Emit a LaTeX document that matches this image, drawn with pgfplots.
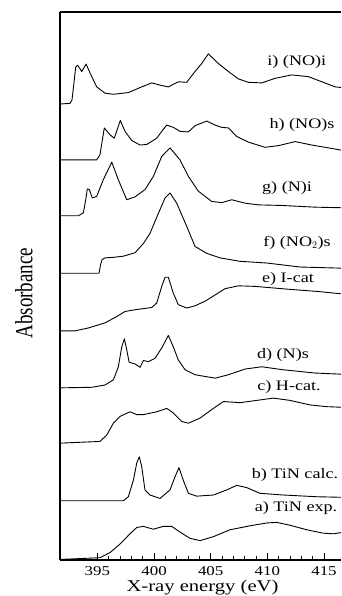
\documentclass[border=0pt]{standalone}
\usepackage{pgfplots}
\usepackage{pgfplotstable}
\usepackage{fontspec}
\usepackage{graphicx}
\pgfplotsset{compat=1.18}
\setmainfont{Liberation Serif}[FakeStretch=1.25]
\newfontfamily\plainserif{Liberation Serif}

% local curve heights (baseline = 0); offsets added when plotting
\pgfplotstableread{
x y
391.70 0
392.58 0.01
392.76 0.07
393.09 0.65
393.26 0.68
393.62 0.57
394.00 0.70
394.50 0.48
394.94 0.30
395.67 0.19
396.41 0.17
397.73 0.20
398.91 0.30
399.80 0.37
400.53 0.33
401.26 0.30
402.14 0.39
402.88 0.38
403.62 0.57
404.21 0.71
404.79 0.88
405.68 0.71
406.56 0.57
407.44 0.44
408.33 0.38
409.51 0.37
410.68 0.45
412.15 0.51
413.62 0.48
414.80 0.39
415.98 0.30
416.50 0.29
}\tabI

\pgfplotstableread{
x y
391.70 0
394.94 0
395.23 0.09
395.61 0.56
395.82 0.51
396.11 0.44
396.49 0.38
397.02 0.69
397.44 0.50
398.03 0.34
398.76 0.26
399.36 0.27
400.24 0.38
400.68 0.50
401.12 0.61
401.70 0.57
402.29 0.50
403.03 0.49
403.62 0.60
404.65 0.68
405.39 0.61
405.98 0.57
406.56 0.56
407.30 0.41
408.33 0.31
409.80 0.22
411.00 0.25
412.45 0.32
413.92 0.26
416.27 0.18
416.50 0.17
}\tabH

\pgfplotstableread{
x y
391.70 0
393.32 0
393.76 0.05
393.97 0.28
394.11 0.47
394.29 0.46
394.55 0.31
394.94 0.34
395.52 0.63
396.27 0.94
396.85 0.63
397.59 0.28
398.32 0.33
399.21 0.46
399.94 0.69
400.68 1.04
401.41 1.19
402.29 0.98
403.03 0.69
403.91 0.43
405.09 0.25
405.98 0.23
406.86 0.28
408.03 0.22
409.21 0.19
411.27 0.18
414.21 0.15
416.50 0.14
}\tabG

\pgfplotstableread{
x y
391.70 0
395.14 0
395.28 0.15
395.41 0.24
395.67 0.27
396.41 0.28
397.29 0.30
398.32 0.36
399.05 0.52
399.64 0.70
400.38 1.05
400.97 1.32
401.41 1.41
402.00 1.23
402.89 0.82
403.62 0.47
404.65 0.35
405.83 0.27
407.59 0.21
409.95 0.18
412.89 0.11
416.50 0.09
}\tabF

\pgfplotstableread{
x y
391.70 0
393.02 0
394.19 0.05
395.67 0.14
396.70 0.25
397.44 0.34
398.32 0.37
399.80 0.41
400.24 0.49
400.68 0.78
400.97 0.94
401.26 0.94
401.70 0.66
402.14 0.46
402.88 0.40
403.62 0.44
404.50 0.52
405.39 0.63
406.27 0.74
407.44 0.79
408.92 0.78
411.86 0.73
414.51 0.69
416.50 0.65
}\tabE

\pgfplotstableread{
x y
391.70 0
394.50 0.01
395.67 0.05
396.41 0.14
396.85 0.37
397.15 0.72
397.38 0.86
397.59 0.67
397.80 0.45
398.32 0.42
398.77 0.36
399.06 0.48
399.50 0.46
400.09 0.52
400.68 0.70
401.26 0.92
401.70 0.72
402.14 0.49
402.73 0.32
403.62 0.23
405.39 0.17
406.56 0.23
408.03 0.33
409.51 0.37
411.27 0.32
414.21 0.26
416.50 0.24
}\tabD

\pgfplotstableread{
x y
391.70 0
395.23 0.03
395.82 0.14
396.41 0.35
397.00 0.47
397.88 0.55
398.47 0.50
399.05 0.50
400.24 0.55
401.12 0.61
401.70 0.53
402.44 0.38
403.03 0.35
404.06 0.44
405.24 0.61
406.12 0.73
407.59 0.71
409.06 0.75
410.53 0.79
412.00 0.75
413.77 0.67
415.24 0.64
416.50 0.63
}\tabC

\pgfplotstableread{
x y
391.70 0
397.29 0
397.73 0.07
398.18 0.36
398.47 0.66
398.70 0.77
398.91 0.60
399.20 0.19
399.64 0.10
400.53 0.04
401.41 0.19
401.85 0.42
402.20 0.58
402.58 0.36
403.03 0.13
403.76 0.08
405.24 0.10
406.42 0.19
407.30 0.27
408.18 0.23
409.35 0.13
411.41 0.10
414.35 0.07
416.50 0.06
}\tabB

\pgfplotstableread{
x y
391.70 0.01
395.23 0.04
396.11 0.13
397.00 0.28
397.88 0.46
398.47 0.57
399.06 0.59
399.94 0.54
400.82 0.59
401.56 0.59
402.29 0.49
403.17 0.38
404.06 0.34
405.24 0.41
406.70 0.53
408.47 0.60
409.95 0.65
410.83 0.66
412.00 0.61
413.48 0.53
414.94 0.47
415.83 0.46
416.50 0.48
}\tabA

\begin{document}
\begin{tikzpicture}
\useasboundingbox (-60pt,-36pt) rectangle (281pt,560pt);
\begin{axis}[
  at={(0pt,0pt)}, anchor=south west,
  width=281pt, height=548pt, scale only axis,
  xmin=391.7, xmax=416.5, ymin=0, ymax=9.614,
  axis x line*=box, axis y line*=left,
  axis line style={-, line width=1.4pt, black},
  xtick={395,400,405,410,415},
  minor x tick num=4,
  xtick pos=bottom,
  ytick=\empty,
  tick align=inside,
  major tick length=7pt, minor tick length=4pt,
  every tick/.style={black, line width=1pt},
  /pgf/number format/assume math mode=true,
  /pgf/number format/1000 sep={},
  xticklabel style={font=\fontsize{13.5}{15}\selectfont, anchor=center, yshift=-11pt},
  xlabel={X-ray energy (eV)},
  xlabel style={font=\fontsize{16.5}{18}\selectfont, at={(axis description cs:0.507,0)}, anchor=center, yshift=-28pt},
  ylabel={\scalebox{1}[1.3]{\plainserif\fontsize{19}{22}\selectfont Absorbance}},
  ylabel style={at={(axis description cs:-0.128,0.487)}, anchor=center},
  clip=false,
  curve/.style={black, line width=0.9pt, line join=round, mark=none, solid},
]
\addplot[curve] table[x=x, y expr=\thisrow{y}+8.00] {\tabI};
\addplot[curve] table[x=x, y expr=\thisrow{y}+7.02] {\tabH};
\addplot[curve] table[x=x, y expr=\thisrow{y}+6.04] {\tabG};
\addplot[curve] table[x=x, y expr=\thisrow{y}+5.03] {\tabF};
\addplot[curve] table[x=x, y expr=\thisrow{y}+4.02] {\tabE};
\addplot[curve] table[x=x, y expr=\thisrow{y}+3.02] {\tabD};
\addplot[curve] table[x=x, y expr=\thisrow{y}+2.05] {\tabC};
\addplot[curve] table[x=x, y expr=\thisrow{y}+1.04] {\tabB};
\addplot[curve] table[x=x, y expr=\thisrow{y}+0.00] {\tabA};

\begin{scope}[every node/.style={font=\fontsize{14.5}{16}\selectfont, anchor=center}]
\node at (axis cs:412.6,8.74) {i) (NO)i};
\node at (axis cs:413.06,7.63) {h) (NO)s};
\node at (axis cs:411.74,6.53) {g) (N)i};
\node at (axis cs:412.62,5.56) {f) (NO$_2$)s};
\node at (axis cs:411.82,4.93) {e) I-cat};
\node at (axis cs:411.38,3.60) {d) (N)s};
\node at (axis cs:411.91,3.04) {c) H-cat.};
\node at (axis cs:412.44,1.49) {b) TiN calc.};
\node at (axis cs:412.53,0.91) {a) TiN exp.};
\end{scope}
\end{axis}
\end{tikzpicture}
\end{document}
